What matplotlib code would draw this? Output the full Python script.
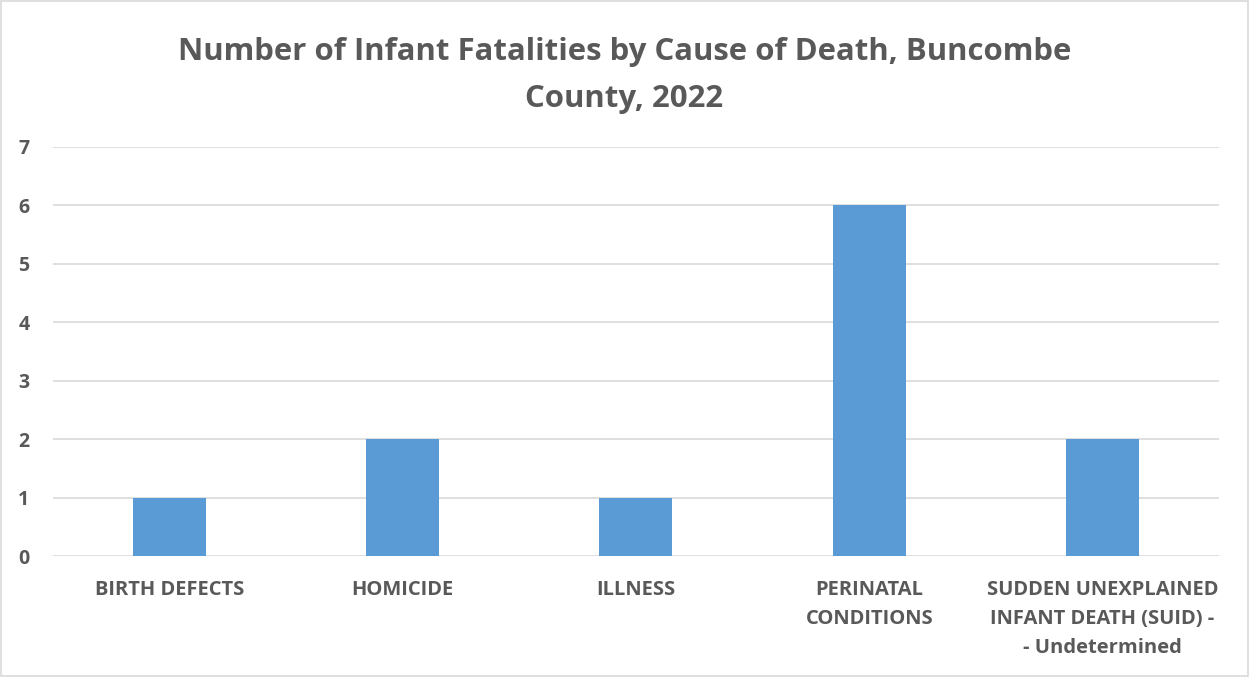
import matplotlib
matplotlib.use("Agg")
import matplotlib.pyplot as plt
from matplotlib.patches import Rectangle

categories = ["BIRTH DEFECTS", "HOMICIDE", "ILLNESS", "PERINATAL\nCONDITIONS",
              "SUDDEN UNEXPLAINED\nINFANT DEATH (SUID) -\n- Undetermined"]
values = [1, 2, 1, 6, 2]
yticks = [0, 1, 2, 3, 4, 5, 6, 7]
title = "Number of Infant Fatalities by Cause of Death, Buncombe\nCounty, 2022"

TXT = "#595959"
plt.rcParams['font.family'] = ['Open Sans', 'DejaVu Sans']

fig = plt.figure(figsize=(12.49, 6.77), dpi=100)
fig.patches.append(Rectangle((0.001, 0.001), 0.998, 0.997, transform=fig.transFigure,
                             fill=False, edgecolor="#D9D9D9", linewidth=1.2))
ax = fig.add_axes([0.0424, 0.1787, 0.9336, 0.6042])
x = list(range(len(categories)))
ax.bar(x, values, width=0.313, color="#5B9BD5", zorder=3)
ax.set_xlim(-0.5, len(categories) - 0.5)
ax.set_ylim(0, 7)
ax.set_yticks(yticks)
ax.set_yticklabels([str(v) for v in yticks], fontsize=14, fontweight="bold", color=TXT)
ax.set_xticks(x)
ax.set_xticklabels(categories, fontsize=14.5, fontweight="bold", color=TXT,
                   linespacing=1.62, va="top")
ax.tick_params(axis="both", length=0)
ax.tick_params(axis="y", pad=17)
ax.tick_params(axis="x", pad=17)
ax.grid(axis="y", color="#D9D9D9", linewidth=1.2, zorder=0)
for s in ax.spines.values():
    s.set_visible(False)
fig.text(0.5, 0.889, title, ha="center", va="center", fontsize=22.4, fontweight="bold",
         color=TXT, linespacing=1.75)
fig.savefig("out.png", dpi=100)
